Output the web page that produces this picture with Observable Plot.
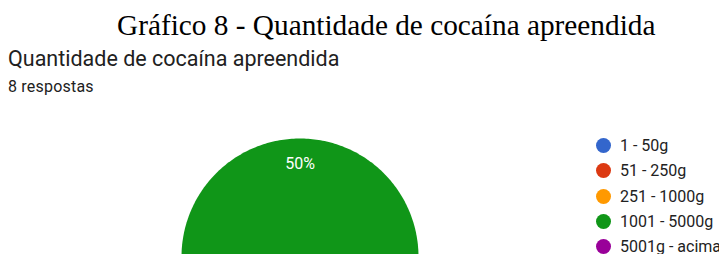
<!DOCTYPE html>
<html><head><meta charset="utf-8">
<script src="https://cdn.jsdelivr.net/npm/d3@7"></script>
<script src="https://cdn.jsdelivr.net/npm/@observablehq/plot@0.6"></script>
<style>
html,body{margin:0;padding:0;background:#fff;width:719px;height:254px;overflow:hidden;position:relative}
.t{position:absolute;white-space:nowrap}
#title{left:117px;top:7px;font-family:"Liberation Serif","Times New Roman",serif;font-size:29.3px;color:#000;line-height:36px}
#sub{left:8px;top:46px;font-family:Roboto,sans-serif;font-size:21.5px;color:#212121;line-height:26px}
#resp{left:8px;top:78px;font-family:Roboto,sans-serif;font-size:16px;letter-spacing:0.2px;color:#212121;line-height:18px}
#chart{position:absolute;left:0;top:100px;width:719px;height:154px;overflow:hidden}
#legend{position:absolute;left:596px;top:133.2px;width:140px;white-space:nowrap;font-family:Roboto,sans-serif;font-size:16px;color:#222}
.row{display:flex;align-items:center;height:25.2px;white-space:nowrap}
.sw{width:15px;height:15px;border-radius:50%;margin-right:9px;flex:none}
</style></head>
<body>
<div class="t" id="title">Gráfico 8 - Quantidade de cocaína apreendida</div>
<div class="t" id="sub">Quantidade de cocaína apreendida</div>
<div class="t" id="resp">8 respostas</div>
<div id="chart"></div>
<div id="legend"></div>
<script>
const categories = ["1 - 50g", "51 - 250g", "251 - 1000g", "1001 - 5000g", "5001g - acima"];
const counts = [1, 1, 1, 4, 1];
const colors = ["#3366cc", "#dc3912", "#ff9900", "#109618", "#990099"];

const total = d3.sum(counts);
const before = counts[0] + counts[1] + counts[2];
const start = -Math.PI / 2 - (before / total) * 2 * Math.PI;
const arcs = d3.pie().sort(null).startAngle(start).endAngle(start + 2 * Math.PI)(counts);

const poly = [];
const labels = [];
arcs.forEach((a, i) => {
  const cat = categories[i];
  if (a.value === 0) return;
  poly.push({cat, x: 0, y: 0});
  const n = Math.max(2, Math.ceil((a.endAngle - a.startAngle) / (Math.PI / 180)));
  for (let k = 0; k <= n; k++) {
    const t = a.startAngle + (a.endAngle - a.startAngle) * k / n;
    poly.push({cat, x: Math.sin(t), y: Math.cos(t)});
  }
  poly.push({cat, x: 0, y: 0});
  const m = (a.startAngle + a.endAngle) / 2;
  const pct = a.value / total * 100;
  const ly = 0.79 * Math.cos(m);
  // only the upper half of the pie is inside the picture
  if (ly > 0) labels.push({cat, x: 0.79 * Math.sin(m), y: ly, text: (Number.isInteger(pct) ? pct : pct.toFixed(1)) + "%"});
});

const plot = Plot.plot({
  width: 719, height: 154,
  margin: 0,
  x: {domain: [-1, 1], range: [181, 418], axis: null},
  y: {domain: [-1, 1], range: [275, 38], axis: null},
  color: {domain: categories, range: colors},
  style: {overflow: "hidden", background: "transparent"},
  marks: [
    Plot.line(poly, {x: "x", y: "y", z: "cat", fill: "cat", stroke: "none", curve: "linear"}),
    Plot.text(labels, {x: "x", y: "y", text: "text", fill: "white", fontSize: 16, fontFamily: "Roboto, sans-serif"})
  ]
});
document.getElementById("chart").appendChild(plot);

const lg = document.getElementById("legend");
categories.forEach((c, i) => {
  const r = document.createElement("div"); r.className = "row";
  const s = document.createElement("div"); s.className = "sw"; s.style.background = colors[i];
  const t = document.createElement("span"); t.textContent = c;
  r.appendChild(s); r.appendChild(t); lg.appendChild(r);
});
</script>
</body></html>
